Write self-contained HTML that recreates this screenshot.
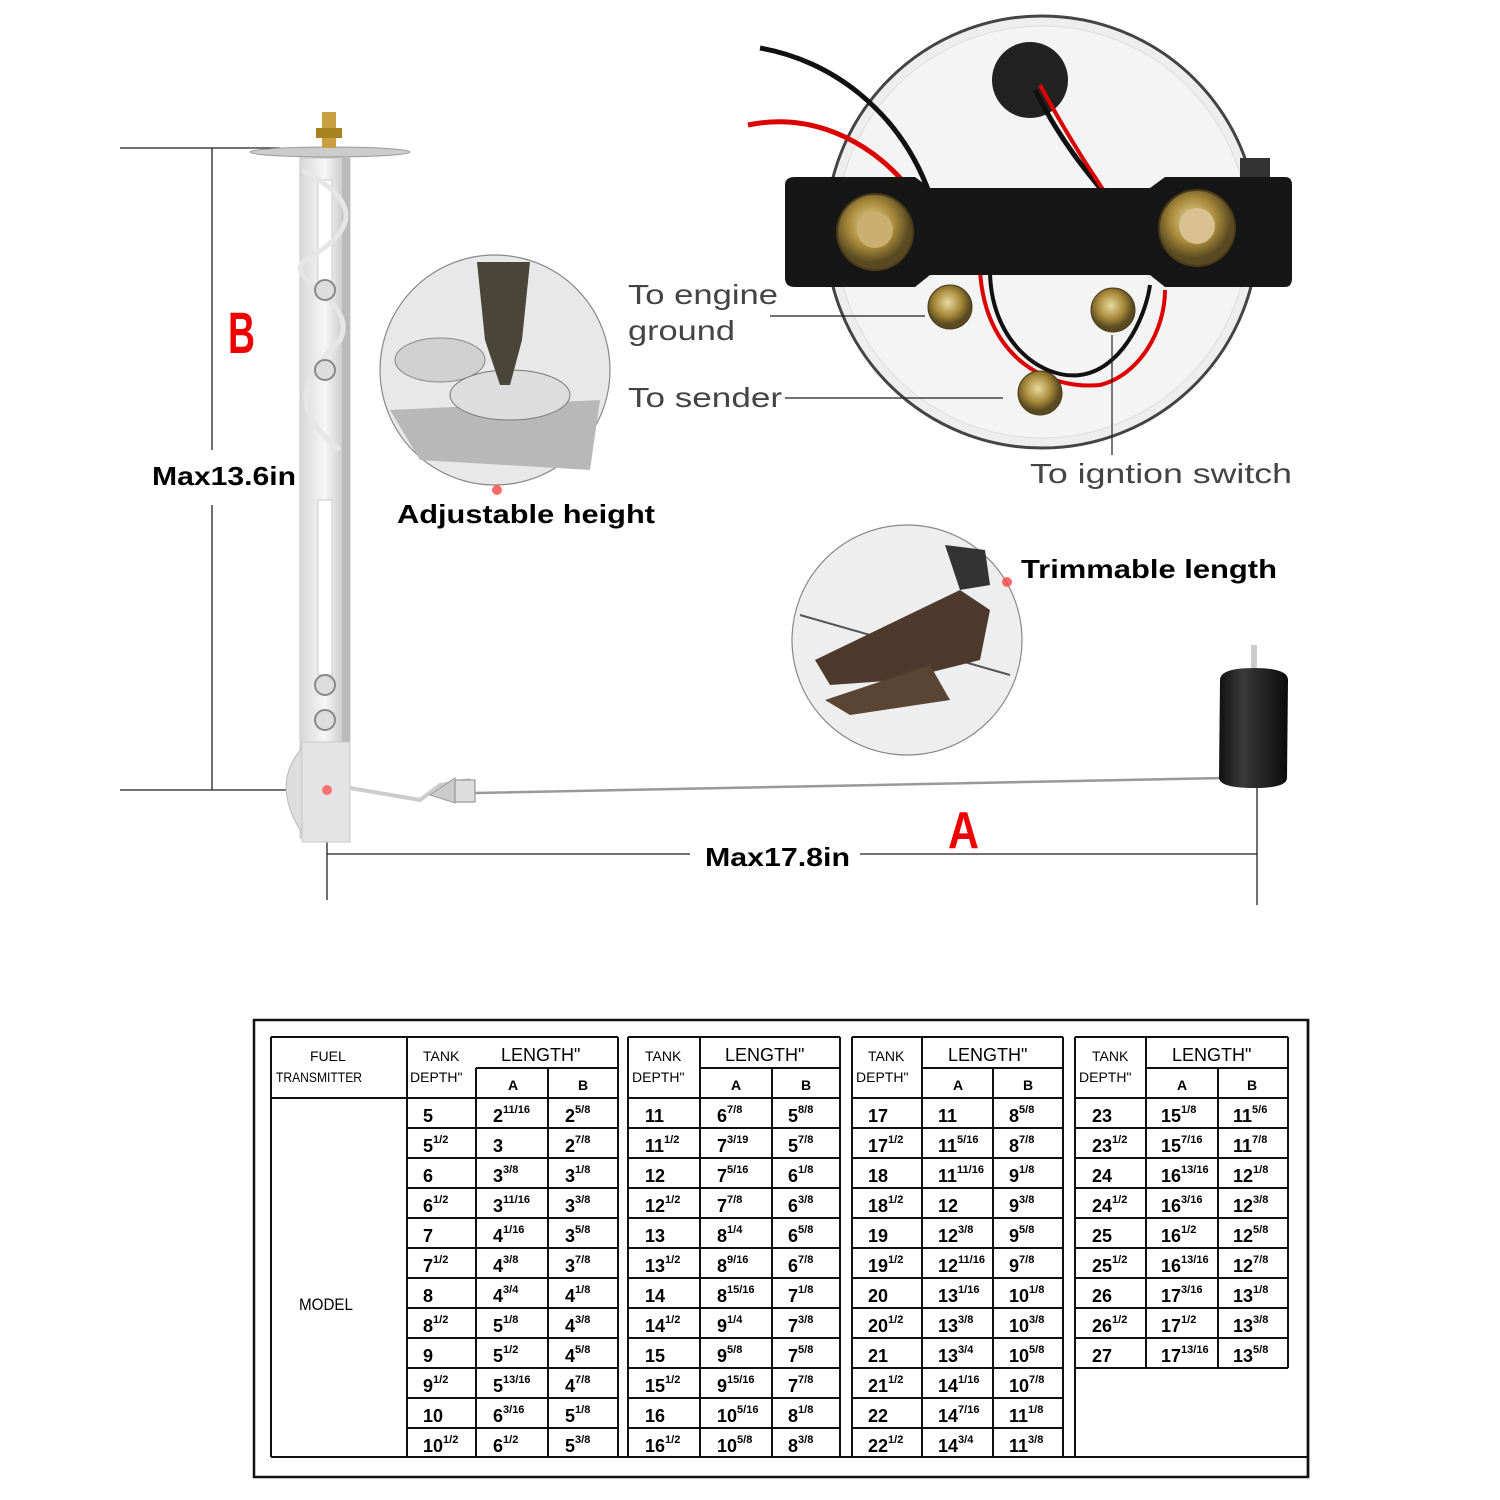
<!DOCTYPE html>
<html><head><meta charset="utf-8"><style>
html,body{margin:0;padding:0;background:#fff}
svg{display:block}
.t{font-family:"Liberation Sans",Arial,sans-serif;font-weight:bold;font-size:18px;fill:#000}
.s{font-size:11px}
.h{font-family:"Liberation Sans",Arial,sans-serif;font-size:14px;fill:#000}
.lbl{font-family:"Liberation Sans",Arial,sans-serif;font-size:28px;fill:#444}
.bl{font-family:"Liberation Sans",Arial,sans-serif;font-weight:bold;font-size:26px;fill:#000}
</style></head><body>
<svg width="1500" height="1500" viewBox="0 0 1500 1500" xmlns="http://www.w3.org/2000/svg">
<defs>
<linearGradient id="metal" x1="0" x2="1"><stop offset="0" stop-color="#d8d8d8"/><stop offset=".5" stop-color="#f6f6f6"/><stop offset="1" stop-color="#bcbcbc"/></linearGradient>
<radialGradient id="nut" cx=".45" cy=".4"><stop offset="0" stop-color="#e8d9a0"/><stop offset=".6" stop-color="#a88a3a"/><stop offset="1" stop-color="#5a4a22"/></radialGradient>
<linearGradient id="flt" x1="0" x2="1"><stop offset="0" stop-color="#111"/><stop offset=".35" stop-color="#3a3a3a"/><stop offset="1" stop-color="#0a0a0a"/></linearGradient>
</defs>

<!-- B dimension -->
<g stroke="#222" stroke-width="1.3" fill="none">
<line x1="120" y1="148" x2="280" y2="148"/>
<line x1="120" y1="790" x2="320" y2="790"/>
<line x1="212" y1="148" x2="212" y2="450"/>
<line x1="212" y1="505" x2="212" y2="790"/>
<line x1="327" y1="790" x2="327" y2="900"/>
<line x1="327" y1="854" x2="690" y2="854"/>
<line x1="860" y1="854" x2="1257" y2="854"/>
<line x1="1257" y1="785" x2="1257" y2="905"/>
</g>
<text x="228" y="353" font-family="Liberation Sans,Arial,sans-serif" font-weight="bold" font-size="58" fill="#e00" textLength="27" lengthAdjust="spacingAndGlyphs">B</text>
<text class="bl" x="152" y="485" textLength="144" lengthAdjust="spacingAndGlyphs">Max13.6in</text>
<text class="bl" x="705" y="866" textLength="145" lengthAdjust="spacingAndGlyphs">Max17.8in</text>
<text x="948" y="848" font-family="Liberation Sans,Arial,sans-serif" font-weight="bold" font-size="52" fill="#e00" textLength="31" lengthAdjust="spacingAndGlyphs">A</text>

<!-- sender -->
<ellipse cx="330" cy="152" rx="80" ry="5" fill="#ccc" stroke="#999"/>
<rect x="322" y="112" width="14" height="36" fill="#c9a040"/>
<rect x="316" y="128" width="26" height="10" fill="#a8821f"/>
<rect x="300" y="158" width="50" height="680" fill="url(#metal)" stroke="#c8c8c8"/>
<rect x="342" y="158" width="8" height="680" fill="#bbb"/>
<rect x="318" y="180" width="14" height="110" fill="#fff" stroke="#ccc"/>
<rect x="318" y="500" width="14" height="175" fill="#fff" stroke="#ccc"/>
<path d="M302 170 C360 200 360 230 305 260 C280 280 360 300 340 340 C300 380 290 410 340 450" stroke="#e6e6e6" stroke-width="5" fill="none"/>
<g fill="#ddd" stroke="#888" stroke-width="2">
<circle cx="325" cy="290" r="10"/><circle cx="325" cy="370" r="10"/><circle cx="325" cy="685" r="10"/><circle cx="325" cy="720" r="10"/>
</g>
<path d="M305 745 Q270 780 300 830 L305 830 Z" fill="#ddd" stroke="#bbb"/>
<rect x="302" y="742" width="48" height="100" fill="#e4e4e4" stroke="#c8c8c8"/>
<circle cx="327" cy="790" r="5" fill="#f55" opacity=".8"/>
<path d="M350 788 L420 800 L440 785 L470 780" stroke="#ccc" stroke-width="4" fill="none"/>
<path d="M430 795 L455 778 L455 803 Z" fill="#ccc" stroke="#999"/>
<rect x="455" y="780" width="20" height="22" fill="#ddd" stroke="#888"/>
<line x1="475" y1="793" x2="1225" y2="778" stroke="#999" stroke-width="2.5"/>
<!-- float -->
<rect x="1251" y="645" width="6" height="25" fill="#ccc"/>
<path d="M1220 680 Q1220 668 1254 668 Q1288 668 1288 680 L1287 778 Q1287 788 1254 788 Q1220 788 1219 778 Z" fill="url(#flt)"/>

<!-- magnifier 1 -->
<circle cx="495" cy="370" r="115" fill="#e8e8e8" stroke="#888" stroke-width="1.2"/>
<path d="M390 410 L600 400 L590 470 L420 460 Z" fill="#b8b8b8"/>
<ellipse cx="440" cy="360" rx="45" ry="22" fill="#d0d0d0" stroke="#888"/>
<ellipse cx="510" cy="395" rx="60" ry="25" fill="#ddd" stroke="#777"/>
<path d="M477 262 L530 262 L522 340 L510 385 L500 385 L485 340 Z" fill="#4a4538"/>
<circle cx="497" cy="490" r="5" fill="#f44" opacity=".8"/>
<text class="bl" x="397" y="523" textLength="258" lengthAdjust="spacingAndGlyphs">Adjustable height</text>

<!-- magnifier 2 -->
<circle cx="907" cy="640" r="115" fill="#eee" stroke="#888" stroke-width="1.2"/>
<line x1="800" y1="615" x2="1010" y2="675" stroke="#555" stroke-width="2"/>
<path d="M815 660 L960 590 L990 610 L980 660 L900 680 L830 685 Z" fill="#4e3a2c"/>
<path d="M825 700 L930 665 L950 700 L850 715 Z" fill="#5a4434"/>
<path d="M945 545 L985 550 L990 585 L960 590 Z" fill="#333"/>
<circle cx="1007" cy="582" r="5" fill="#f44" opacity=".8"/>
<text class="bl" x="1021" y="578" textLength="256" lengthAdjust="spacingAndGlyphs">Trimmable length</text>

<!-- gauge -->
<circle cx="1042" cy="232" r="216" fill="#eee" stroke="#444" stroke-width="3"/>
<circle cx="1042" cy="232" r="206" fill="#f4f4f4" stroke="#ddd"/>
<circle cx="1030" cy="80" r="38" fill="#222"/>
<path d="M760 48 C830 60 900 110 930 195" stroke="#111" stroke-width="5" fill="none"/>
<path d="M748 125 C820 110 880 150 910 190" stroke="#d00" stroke-width="5" fill="none"/>
<path d="M1035 90 C1060 140 1085 170 1110 200" stroke="#111" stroke-width="5" fill="none"/>
<path d="M1040 85 C1070 140 1090 170 1110 200" stroke="#d00" stroke-width="4" fill="none"/>
<path d="M990 270 C990 340 1040 380 1080 375 C1120 370 1145 320 1150 285" stroke="#111" stroke-width="4" fill="none"/>
<path d="M980 270 C985 360 1050 390 1100 385 C1140 375 1165 330 1165 290" stroke="#d00" stroke-width="4" fill="none"/>
<rect x="1240" y="158" width="30" height="30" fill="#333"/>
<path d="M795 177 L915 177 L930 188 L1150 188 L1165 177 L1285 177 Q1292 177 1292 185 L1292 278 Q1292 287 1285 287 L1165 287 L1150 275 L930 275 L915 287 L795 287 Q785 287 785 278 L785 185 Q785 177 795 177 Z" fill="#161616"/>
<circle cx="875" cy="232" r="38" fill="url(#nut)" stroke="#4a3a18" stroke-width="2"/>
<circle cx="875" cy="230" r="18" fill="#c9b070"/>
<circle cx="1197" cy="228" r="38" fill="url(#nut)" stroke="#4a3a18" stroke-width="2"/>
<circle cx="1197" cy="226" r="18" fill="#d8c090"/>
<circle cx="950" cy="307" r="22" fill="url(#nut)" stroke="#4a3a18"/>
<circle cx="1113" cy="310" r="22" fill="url(#nut)" stroke="#4a3a18"/>
<circle cx="1040" cy="393" r="22" fill="url(#nut)" stroke="#4a3a18"/>
<g stroke="#222" stroke-width="1.2">
<line x1="770" y1="316" x2="925" y2="316"/>
<line x1="785" y1="398" x2="1003" y2="398"/>
<line x1="1112" y1="335" x2="1112" y2="455"/>
</g>
<g class="lbl" font-weight="normal">
<text class="lbl" x="628" y="304" textLength="150" lengthAdjust="spacingAndGlyphs">To engine</text>
<text class="lbl" x="628" y="340" textLength="107" lengthAdjust="spacingAndGlyphs">ground</text>
<text class="lbl" x="628" y="407" textLength="154" lengthAdjust="spacingAndGlyphs">To sender</text>
<text class="lbl" x="1030" y="483" textLength="262" lengthAdjust="spacingAndGlyphs">To igntion switch</text>
</g>

<!-- TABLE -->
<rect x="254" y="1020" width="1054" height="457" fill="none" stroke="#111" stroke-width="2.5"/>
<g stroke="#111" stroke-width="2" fill="none">
<path d="M271 1037 H618 M628 1037 H840 M852 1037 H1063 M1075 1037 H1288"/>
<path d="M271 1037 V1457 M618 1037 V1457 M628 1037 V1457 M840 1037 V1457 M852 1037 V1457 M1063 1037 V1457 M1075 1037 V1457 M1288 1037 V1368"/>
<path d="M271 1457 H1308"/>
<path d="M407 1037 V1457 M476 1068 V1457 M548 1068 V1457"/>
<path d="M700 1037 V1457 M772 1068 V1457"/>
<path d="M922 1037 V1457 M993 1068 V1457"/>
<path d="M1146 1037 V1368 M1218 1068 V1368"/>
<path d="M476 1068 H618 M700 1068 H840 M922 1068 H1063 M1146 1068 H1288"/>
<path d="M271 1098 H618 M628 1098 H840 M852 1098 H1063 M1075 1098 H1288"/>
<path d="M407 1128 H618 M407 1158 H618 M407 1188 H618 M407 1218 H618 M407 1248 H618 M407 1278 H618 M407 1308 H618 M407 1338 H618 M407 1368 H618 M407 1398 H618 M407 1428 H618"/>
<path d="M628 1128 H840 M628 1158 H840 M628 1188 H840 M628 1218 H840 M628 1248 H840 M628 1278 H840 M628 1308 H840 M628 1338 H840 M628 1368 H840 M628 1398 H840 M628 1428 H840"/>
<path d="M852 1128 H1063 M852 1158 H1063 M852 1188 H1063 M852 1218 H1063 M852 1248 H1063 M852 1278 H1063 M852 1308 H1063 M852 1338 H1063 M852 1368 H1063 M852 1398 H1063 M852 1428 H1063"/>
<path d="M1075 1128 H1288 M1075 1158 H1288 M1075 1188 H1288 M1075 1218 H1288 M1075 1248 H1288 M1075 1278 H1288 M1075 1308 H1288 M1075 1338 H1288 M1075 1368 H1288"/>
</g>
<line x1="1308" y1="1020" x2="1308" y2="1477" stroke="#111" stroke-width="2.5"/>
<g class="h">
<text x="310" y="1061">FUEL</text>
<text x="276" y="1082" textLength="86" lengthAdjust="spacingAndGlyphs">TRANSMITTER</text>
<text x="299" y="1310" font-size="17" textLength="54" lengthAdjust="spacingAndGlyphs">MODEL</text>
<text x="423" y="1061">TANK</text><text x="410" y="1082">DEPTH"</text>
<text x="645" y="1061">TANK</text><text x="632" y="1082">DEPTH"</text>
<text x="868" y="1061">TANK</text><text x="856" y="1082">DEPTH"</text>
<text x="1092" y="1061">TANK</text><text x="1079" y="1082">DEPTH"</text>
<g font-size="18"><text x="501" y="1061">LENGTH"</text><text x="725" y="1061">LENGTH"</text><text x="948" y="1061">LENGTH"</text><text x="1172" y="1061">LENGTH"</text></g>
<g font-weight="bold"><text x="508" y="1090">A</text><text x="578" y="1090">B</text><text x="731" y="1090">A</text><text x="801" y="1090">B</text><text x="953" y="1090">A</text><text x="1023" y="1090">B</text><text x="1177" y="1090">A</text><text x="1247" y="1090">B</text></g>
</g>
<g class="t">
<!-- group 1 -->
<text x="423" y="1122">5</text><text x="493" y="1122">2<tspan class="s" dy="-9">11/16</tspan></text><text x="565" y="1122">2<tspan class="s" dy="-9">5/8</tspan></text>
<text x="423" y="1152">5<tspan class="s" dy="-9">1/2</tspan></text><text x="493" y="1152">3</text><text x="565" y="1152">2<tspan class="s" dy="-9">7/8</tspan></text>
<text x="423" y="1182">6</text><text x="493" y="1182">3<tspan class="s" dy="-9">3/8</tspan></text><text x="565" y="1182">3<tspan class="s" dy="-9">1/8</tspan></text>
<text x="423" y="1212">6<tspan class="s" dy="-9">1/2</tspan></text><text x="493" y="1212">3<tspan class="s" dy="-9">11/16</tspan></text><text x="565" y="1212">3<tspan class="s" dy="-9">3/8</tspan></text>
<text x="423" y="1242">7</text><text x="493" y="1242">4<tspan class="s" dy="-9">1/16</tspan></text><text x="565" y="1242">3<tspan class="s" dy="-9">5/8</tspan></text>
<text x="423" y="1272">7<tspan class="s" dy="-9">1/2</tspan></text><text x="493" y="1272">4<tspan class="s" dy="-9">3/8</tspan></text><text x="565" y="1272">3<tspan class="s" dy="-9">7/8</tspan></text>
<text x="423" y="1302">8</text><text x="493" y="1302">4<tspan class="s" dy="-9">3/4</tspan></text><text x="565" y="1302">4<tspan class="s" dy="-9">1/8</tspan></text>
<text x="423" y="1332">8<tspan class="s" dy="-9">1/2</tspan></text><text x="493" y="1332">5<tspan class="s" dy="-9">1/8</tspan></text><text x="565" y="1332">4<tspan class="s" dy="-9">3/8</tspan></text>
<text x="423" y="1362">9</text><text x="493" y="1362">5<tspan class="s" dy="-9">1/2</tspan></text><text x="565" y="1362">4<tspan class="s" dy="-9">5/8</tspan></text>
<text x="423" y="1392">9<tspan class="s" dy="-9">1/2</tspan></text><text x="493" y="1392">5<tspan class="s" dy="-9">13/16</tspan></text><text x="565" y="1392">4<tspan class="s" dy="-9">7/8</tspan></text>
<text x="423" y="1422">10</text><text x="493" y="1422">6<tspan class="s" dy="-9">3/16</tspan></text><text x="565" y="1422">5<tspan class="s" dy="-9">1/8</tspan></text>
<text x="423" y="1452">10<tspan class="s" dy="-9">1/2</tspan></text><text x="493" y="1452">6<tspan class="s" dy="-9">1/2</tspan></text><text x="565" y="1452">5<tspan class="s" dy="-9">3/8</tspan></text>
<!-- group 2 -->
<text x="645" y="1122">11</text><text x="717" y="1122">6<tspan class="s" dy="-9">7/8</tspan></text><text x="788" y="1122">5<tspan class="s" dy="-9">8/8</tspan></text>
<text x="645" y="1152">11<tspan class="s" dy="-9">1/2</tspan></text><text x="717" y="1152">7<tspan class="s" dy="-9">3/19</tspan></text><text x="788" y="1152">5<tspan class="s" dy="-9">7/8</tspan></text>
<text x="645" y="1182">12</text><text x="717" y="1182">7<tspan class="s" dy="-9">5/16</tspan></text><text x="788" y="1182">6<tspan class="s" dy="-9">1/8</tspan></text>
<text x="645" y="1212">12<tspan class="s" dy="-9">1/2</tspan></text><text x="717" y="1212">7<tspan class="s" dy="-9">7/8</tspan></text><text x="788" y="1212">6<tspan class="s" dy="-9">3/8</tspan></text>
<text x="645" y="1242">13</text><text x="717" y="1242">8<tspan class="s" dy="-9">1/4</tspan></text><text x="788" y="1242">6<tspan class="s" dy="-9">5/8</tspan></text>
<text x="645" y="1272">13<tspan class="s" dy="-9">1/2</tspan></text><text x="717" y="1272">8<tspan class="s" dy="-9">9/16</tspan></text><text x="788" y="1272">6<tspan class="s" dy="-9">7/8</tspan></text>
<text x="645" y="1302">14</text><text x="717" y="1302">8<tspan class="s" dy="-9">15/16</tspan></text><text x="788" y="1302">7<tspan class="s" dy="-9">1/8</tspan></text>
<text x="645" y="1332">14<tspan class="s" dy="-9">1/2</tspan></text><text x="717" y="1332">9<tspan class="s" dy="-9">1/4</tspan></text><text x="788" y="1332">7<tspan class="s" dy="-9">3/8</tspan></text>
<text x="645" y="1362">15</text><text x="717" y="1362">9<tspan class="s" dy="-9">5/8</tspan></text><text x="788" y="1362">7<tspan class="s" dy="-9">5/8</tspan></text>
<text x="645" y="1392">15<tspan class="s" dy="-9">1/2</tspan></text><text x="717" y="1392">9<tspan class="s" dy="-9">15/16</tspan></text><text x="788" y="1392">7<tspan class="s" dy="-9">7/8</tspan></text>
<text x="645" y="1422">16</text><text x="717" y="1422">10<tspan class="s" dy="-9">5/16</tspan></text><text x="788" y="1422">8<tspan class="s" dy="-9">1/8</tspan></text>
<text x="645" y="1452">16<tspan class="s" dy="-9">1/2</tspan></text><text x="717" y="1452">10<tspan class="s" dy="-9">5/8</tspan></text><text x="788" y="1452">8<tspan class="s" dy="-9">3/8</tspan></text>
<!-- group 3 -->
<text x="868" y="1122">17</text><text x="938" y="1122">11</text><text x="1009" y="1122">8<tspan class="s" dy="-9">5/8</tspan></text>
<text x="868" y="1152">17<tspan class="s" dy="-9">1/2</tspan></text><text x="938" y="1152">11<tspan class="s" dy="-9">5/16</tspan></text><text x="1009" y="1152">8<tspan class="s" dy="-9">7/8</tspan></text>
<text x="868" y="1182">18</text><text x="938" y="1182">11<tspan class="s" dy="-9">11/16</tspan></text><text x="1009" y="1182">9<tspan class="s" dy="-9">1/8</tspan></text>
<text x="868" y="1212">18<tspan class="s" dy="-9">1/2</tspan></text><text x="938" y="1212">12</text><text x="1009" y="1212">9<tspan class="s" dy="-9">3/8</tspan></text>
<text x="868" y="1242">19</text><text x="938" y="1242">12<tspan class="s" dy="-9">3/8</tspan></text><text x="1009" y="1242">9<tspan class="s" dy="-9">5/8</tspan></text>
<text x="868" y="1272">19<tspan class="s" dy="-9">1/2</tspan></text><text x="938" y="1272">12<tspan class="s" dy="-9">11/16</tspan></text><text x="1009" y="1272">9<tspan class="s" dy="-9">7/8</tspan></text>
<text x="868" y="1302">20</text><text x="938" y="1302">13<tspan class="s" dy="-9">1/16</tspan></text><text x="1009" y="1302">10<tspan class="s" dy="-9">1/8</tspan></text>
<text x="868" y="1332">20<tspan class="s" dy="-9">1/2</tspan></text><text x="938" y="1332">13<tspan class="s" dy="-9">3/8</tspan></text><text x="1009" y="1332">10<tspan class="s" dy="-9">3/8</tspan></text>
<text x="868" y="1362">21</text><text x="938" y="1362">13<tspan class="s" dy="-9">3/4</tspan></text><text x="1009" y="1362">10<tspan class="s" dy="-9">5/8</tspan></text>
<text x="868" y="1392">21<tspan class="s" dy="-9">1/2</tspan></text><text x="938" y="1392">14<tspan class="s" dy="-9">1/16</tspan></text><text x="1009" y="1392">10<tspan class="s" dy="-9">7/8</tspan></text>
<text x="868" y="1422">22</text><text x="938" y="1422">14<tspan class="s" dy="-9">7/16</tspan></text><text x="1009" y="1422">11<tspan class="s" dy="-9">1/8</tspan></text>
<text x="868" y="1452">22<tspan class="s" dy="-9">1/2</tspan></text><text x="938" y="1452">14<tspan class="s" dy="-9">3/4</tspan></text><text x="1009" y="1452">11<tspan class="s" dy="-9">3/8</tspan></text>
<!-- group 4 -->
<text x="1092" y="1122">23</text><text x="1161" y="1122">15<tspan class="s" dy="-9">1/8</tspan></text><text x="1233" y="1122">11<tspan class="s" dy="-9">5/6</tspan></text>
<text x="1092" y="1152">23<tspan class="s" dy="-9">1/2</tspan></text><text x="1161" y="1152">15<tspan class="s" dy="-9">7/16</tspan></text><text x="1233" y="1152">11<tspan class="s" dy="-9">7/8</tspan></text>
<text x="1092" y="1182">24</text><text x="1161" y="1182">16<tspan class="s" dy="-9">13/16</tspan></text><text x="1233" y="1182">12<tspan class="s" dy="-9">1/8</tspan></text>
<text x="1092" y="1212">24<tspan class="s" dy="-9">1/2</tspan></text><text x="1161" y="1212">16<tspan class="s" dy="-9">3/16</tspan></text><text x="1233" y="1212">12<tspan class="s" dy="-9">3/8</tspan></text>
<text x="1092" y="1242">25</text><text x="1161" y="1242">16<tspan class="s" dy="-9">1/2</tspan></text><text x="1233" y="1242">12<tspan class="s" dy="-9">5/8</tspan></text>
<text x="1092" y="1272">25<tspan class="s" dy="-9">1/2</tspan></text><text x="1161" y="1272">16<tspan class="s" dy="-9">13/16</tspan></text><text x="1233" y="1272">12<tspan class="s" dy="-9">7/8</tspan></text>
<text x="1092" y="1302">26</text><text x="1161" y="1302">17<tspan class="s" dy="-9">3/16</tspan></text><text x="1233" y="1302">13<tspan class="s" dy="-9">1/8</tspan></text>
<text x="1092" y="1332">26<tspan class="s" dy="-9">1/2</tspan></text><text x="1161" y="1332">17<tspan class="s" dy="-9">1/2</tspan></text><text x="1233" y="1332">13<tspan class="s" dy="-9">3/8</tspan></text>
<text x="1092" y="1362">27</text><text x="1161" y="1362">17<tspan class="s" dy="-9">13/16</tspan></text><text x="1233" y="1362">13<tspan class="s" dy="-9">5/8</tspan></text>
</g>
</svg>
</body></html>
